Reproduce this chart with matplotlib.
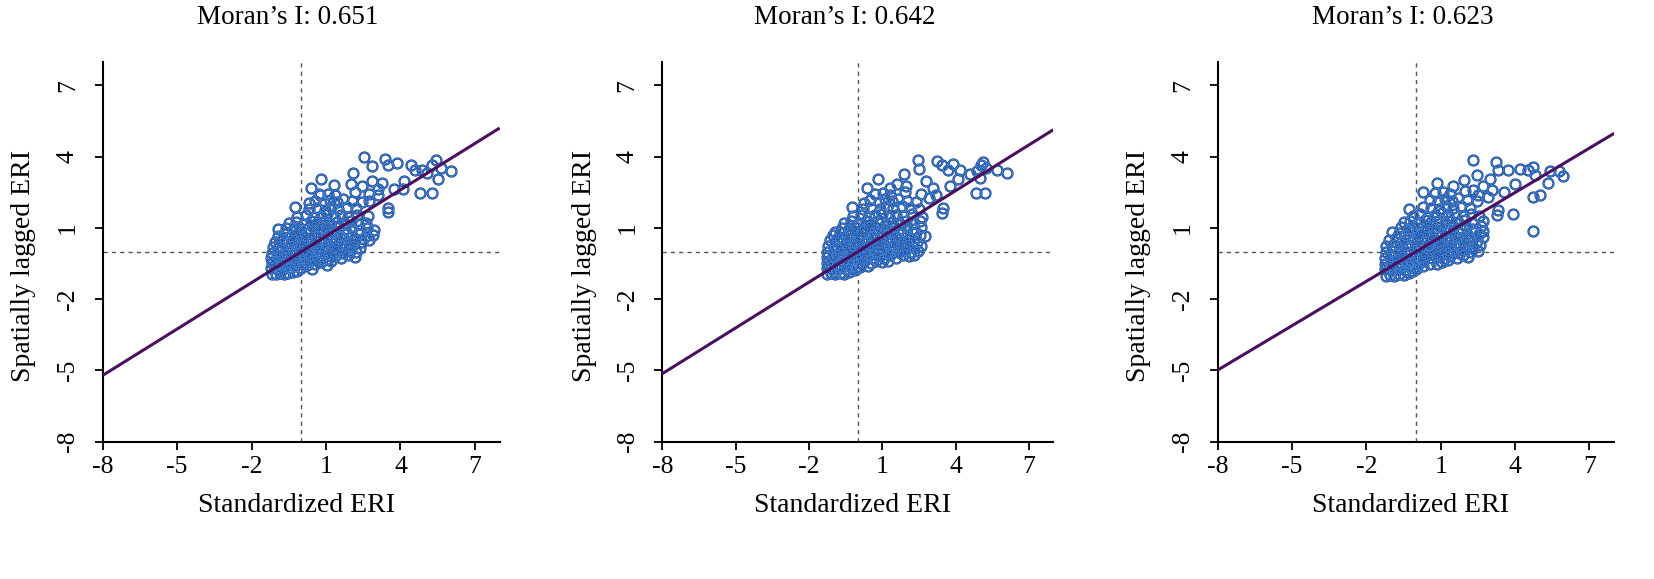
import numpy as np
import matplotlib.pyplot as plt

plt.rcParams['font.family'] = ['Liberation Serif', 'DejaVu Serif']

# Moran's I of each panel (slope of the fitted line)
moran_i = [0.651, 0.642, 0.623]
tick_vals = [-8, -5, -2, 1, 4, 7]

# standardized ERI (x) / spatially lagged ERI (y)
pts_a = [
    (-1.18, -0.92), (-1.02, -0.95), (-0.86, -0.90), (-0.70, -0.93), (-0.52, -0.88), (-0.35, -0.85), (-0.15, -0.80),
    (-1.20, -0.70), (-1.05, -0.62), (-0.88, -0.72), (-0.66, -0.66), (-0.45, -0.70), (-0.25, -0.62), (-0.02, -0.68),
    (0.22, -0.58), (0.45, -0.72),
    (-1.19, -0.48), (-1.00, -0.42), (-0.80, -0.50), (-0.58, -0.44), (-0.38, -0.50), (-0.15, -0.40), (0.08, -0.47),
    (0.30, -0.38), (0.55, -0.50), (0.78, -0.42), (1.02, -0.58), (1.20, -0.40),
    (-1.20, -0.25), (-0.97, -0.20), (-0.74, -0.28), (-0.52, -0.22), (-0.30, -0.30), (-0.08, -0.18), (0.15, -0.26),
    (0.38, -0.15), (0.62, -0.28), (0.85, -0.20), (1.10, -0.30), (1.35, -0.18), (1.62, -0.28), (1.88, -0.15), (2.15, -0.24),
    (-1.18, -0.05), (-0.92, 0.02), (-0.68, -0.08), (-0.45, 0.00), (-0.22, -0.04), (0.02, 0.05), (0.26, -0.06),
    (0.50, 0.04), (0.72, -0.02), (0.96, 0.06), (1.20, -0.06), (1.45, 0.03), (1.70, -0.04), (1.95, 0.05), (2.22, -0.02),
    (-1.15, 0.18), (-0.88, 0.25), (-0.62, 0.15), (-0.40, 0.24), (-0.15, 0.20), (0.10, 0.28), (0.34, 0.18),
    (0.58, 0.26), (0.82, 0.16), (1.05, 0.25), (1.30, 0.18), (1.55, 0.28), (1.80, 0.20), (2.05, 0.26), (2.35, 0.16),
    (-1.05, 0.42), (-0.78, 0.48), (-0.55, 0.40), (-0.30, 0.50), (-0.05, 0.44), (0.20, 0.52), (0.45, 0.42), (0.70, 0.50),
    (0.95, 0.40), (1.18, 0.48), (1.42, 0.44), (1.68, 0.52), (1.92, 0.42), (2.18, 0.50), (2.45, 0.40), (2.72, 0.48),
    (-0.95, 0.68), (-0.66, 0.74), (-0.42, 0.66), (-0.18, 0.76), (0.08, 0.68), (0.32, 0.78), (0.58, 0.66), (0.82, 0.74),
    (1.06, 0.70), (1.32, 0.78), (1.56, 0.66), (1.80, 0.74), (2.06, 0.68), (2.32, 0.76), (2.60, 0.66), (2.88, 0.72),
    (-0.92, 0.95), (-0.60, 0.98), (-0.32, 0.92), (-0.05, 1.00), (0.22, 0.94), (0.48, 1.02), (0.74, 0.92), (1.00, 0.98),
    (1.25, 0.90), (1.52, 1.02), (1.78, 0.94), (2.05, 0.98), (2.35, 0.92), (2.65, 1.00), (2.95, 0.90),
    (-0.50, 1.20), (-0.20, 1.25), (0.10, 1.18), (0.38, 1.28), (0.65, 1.20), (0.92, 1.26), (1.18, 1.16), (1.45, 1.24),
    (1.72, 1.20), (2.00, 1.28), (2.30, 1.18), (2.62, 1.22),
    (-0.15, 1.48), (0.20, 1.55), (0.50, 1.45), (0.78, 1.52), (1.05, 1.58), (1.32, 1.46), (1.60, 1.55), (1.90, 1.48),
    (2.25, 1.56), (2.70, 1.50),
    (0.30, 1.78), (0.62, 1.85), (0.95, 1.76), (1.22, 1.88), (1.50, 1.80), (1.85, 1.90), (2.20, 1.82),
    (0.55, 2.15), (0.90, 2.08), (1.18, 2.18), (1.45, 2.10), (1.70, 2.20), (2.05, 2.12), (2.45, 2.08),
    (0.75, 2.40), (1.10, 2.45), (1.35, 2.38), (2.15, 2.50), (2.75, 2.42), (3.10, 2.40),
    (2.54, 3.98), (3.38, 3.92), (3.48, 3.67), (3.88, 3.74), (4.41, 3.63), (2.87, 3.59), (4.86, 3.46), (5.28, 3.67),
    (5.44, 3.84), (5.62, 3.53), (6.02, 3.39), (5.53, 3.04), (4.78, 2.48), (5.26, 2.46), (4.15, 2.97), (4.11, 2.62),
    (3.75, 2.62), (2.07, 3.32), (0.80, 3.04), (0.40, 2.69), (1.33, 2.79), (2.00, 2.83), (2.47, 2.76), (2.87, 2.97),
    (3.27, 2.90), (3.48, 1.86), (3.51, 1.69), (-0.27, 1.90), (0.33, 2.04), (0.73, 2.41), (2.74, 2.13), (3.10, 2.65),
    (5.05, 3.30), (4.60, 3.45),
]

pts_b = [
    (-1.25, -0.95), (-1.08, -0.90), (-0.92, -0.96), (-0.74, -0.88), (-0.55, -0.93), (-0.36, -0.86), (-0.12, -0.78),
    (-1.26, -0.70), (-1.10, -0.64), (-0.90, -0.74), (-0.70, -0.64), (-0.48, -0.72), (-0.26, -0.60), (-0.04, -0.70),
    (0.10, -0.64), (0.40, -0.62),
    (-1.25, -0.46), (-1.04, -0.40), (-0.84, -0.50), (-0.62, -0.42), (-0.40, -0.48), (-0.18, -0.38), (0.06, -0.46),
    (0.28, -0.36), (0.52, -0.48), (0.76, -0.40), (0.97, -0.45), (1.22, -0.38),
    (-1.27, -0.22), (-1.02, -0.18), (-0.80, -0.26), (-0.56, -0.20), (-0.34, -0.28), (-0.10, -0.16), (0.12, -0.24),
    (0.36, -0.14), (0.60, -0.26), (0.84, -0.18), (1.08, -0.28), (1.32, -0.16), (1.58, -0.26), (1.84, -0.12),
    (2.10, -0.20), (2.31, -0.13),
    (-1.24, 0.00), (-0.98, 0.06), (-0.72, -0.04), (-0.48, 0.04), (-0.26, -0.02), (0.00, 0.08), (0.24, -0.04),
    (0.48, 0.06), (0.70, 0.00), (0.94, 0.08), (1.18, -0.04), (1.42, 0.05), (1.66, -0.02), (1.92, 0.06), (2.18, 0.00),
    (2.45, 0.04),
    (-1.22, 0.22), (-0.94, 0.28), (-0.68, 0.18), (-0.44, 0.26), (-0.20, 0.22), (0.06, 0.30), (0.30, 0.20), (0.54, 0.28),
    (0.78, 0.18), (1.02, 0.26), (1.26, 0.20), (1.50, 0.30), (1.76, 0.22), (2.02, 0.28), (2.30, 0.18), (2.58, 0.26),
    (-1.15, 0.48), (-0.86, 0.52), (-0.60, 0.44), (-0.36, 0.54), (-0.10, 0.46), (0.16, 0.54), (0.40, 0.44), (0.66, 0.52),
    (0.90, 0.42), (1.14, 0.50), (1.38, 0.46), (1.64, 0.54), (1.88, 0.44), (2.14, 0.52), (2.42, 0.42), (2.75, 0.67),
    (-1.00, 0.72), (-0.72, 0.78), (-0.46, 0.70), (-0.22, 0.80), (0.04, 0.70), (0.28, 0.80), (0.54, 0.68), (0.78, 0.76),
    (1.02, 0.72), (1.28, 0.80), (1.52, 0.68), (1.76, 0.76), (2.02, 0.70), (2.28, 0.78), (2.55, 0.70),
    (-0.92, 0.85), (-0.64, 1.00), (-0.36, 0.94), (-0.10, 1.02), (0.18, 0.96), (0.44, 1.04), (0.70, 0.94), (0.96, 1.00),
    (1.22, 0.92), (1.48, 1.04), (1.74, 0.96), (2.00, 1.00), (2.30, 0.94), (2.60, 1.06),
    (-0.55, 1.22), (-0.26, 1.28), (0.04, 1.20), (0.32, 1.30), (0.60, 1.22), (0.88, 1.28), (1.14, 1.18), (1.40, 1.26),
    (1.68, 1.22), (1.96, 1.30), (2.26, 1.20), (2.55, 1.28),
    (-0.20, 1.50), (0.14, 1.56), (0.44, 1.46), (0.72, 1.54), (1.00, 1.60), (1.28, 1.48), (1.56, 1.56), (1.86, 1.50),
    (2.20, 1.58), (2.62, 1.46),
    (0.22, 1.80), (0.56, 1.86), (0.90, 1.78), (1.18, 1.90), (1.46, 1.82), (1.80, 1.92), (2.15, 1.84), (2.50, 1.80),
    (0.50, 2.16), (0.86, 2.10), (1.12, 2.20), (1.40, 2.12), (1.66, 2.22), (2.00, 2.14), (2.40, 2.10),
    (0.70, 2.42), (1.05, 2.48), (1.30, 2.40), (1.95, 2.52), (2.60, 2.44),
    (2.45, 3.85), (2.50, 3.49), (3.25, 3.80), (3.43, 3.63), (3.90, 3.70), (3.70, 3.46), (4.20, 3.42), (4.59, 3.28),
    (5.13, 3.78), (4.89, 3.39), (5.26, 3.53), (5.68, 3.46), (6.09, 3.32), (5.00, 3.11), (4.82, 2.46), (5.20, 2.46),
    (4.11, 3.04), (3.77, 2.75), (3.47, 1.83), (3.43, 1.65), (1.90, 3.28), (0.84, 3.04), (0.39, 2.69), (0.27, 2.06),
    (-0.25, 1.88), (1.31, 2.69), (1.99, 2.76), (2.81, 2.97), (3.08, 2.70), (2.90, 2.25), (3.20, 2.40), (1.60, 2.85),
    (5.05, 3.65),
]

pts_c = [
    (-1.22, -1.04), (-1.06, -0.98), (-0.88, -1.02), (-0.70, -0.94), (-0.50, -0.98), (-0.30, -0.90), (-0.10, -0.82),
    (-1.24, -0.74), (-1.08, -0.68), (-0.88, -0.78), (-0.66, -0.68), (-0.44, -0.76), (-0.22, -0.64), (0.00, -0.72),
    (0.03, -0.66), (0.30, -0.62),
    (-1.23, -0.50), (-1.02, -0.44), (-0.82, -0.54), (-0.60, -0.46), (-0.38, -0.52), (-0.16, -0.42), (0.08, -0.50),
    (0.30, -0.40), (0.56, -0.52), (0.84, -0.52), (1.05, -0.44), (1.30, -0.36),
    (-1.25, -0.26), (-1.00, -0.20), (-0.78, -0.30), (-0.54, -0.22), (-0.32, -0.30), (-0.08, -0.18), (0.16, -0.26),
    (0.40, -0.16), (0.64, -0.28), (0.88, -0.20), (1.12, -0.30), (1.38, -0.18), (1.64, -0.26), (1.90, -0.14),
    (2.12, -0.21),
    (-1.22, -0.02), (-0.96, 0.04), (-0.70, -0.06), (-0.46, 0.02), (-0.22, -0.04), (0.04, 0.06), (0.28, -0.06),
    (0.52, 0.04), (0.76, -0.02), (1.00, 0.06), (1.24, -0.04), (1.48, 0.04), (1.72, -0.04), (1.98, 0.06), (2.24, 0.00),
    (2.50, 0.05),
    (-1.20, 0.24), (-0.92, 0.30), (-0.66, 0.20), (-0.42, 0.28), (-0.18, 0.22), (0.08, 0.30), (0.32, 0.20), (0.56, 0.28),
    (0.80, 0.20), (1.04, 0.28), (1.28, 0.22), (1.52, 0.30), (1.78, 0.22), (2.04, 0.28), (2.32, 0.20), (2.60, 0.28),
    (-1.10, 0.50), (-0.82, 0.56), (-0.56, 0.46), (-0.32, 0.56), (-0.06, 0.48), (0.20, 0.56), (0.44, 0.46), (0.70, 0.54),
    (0.94, 0.44), (1.18, 0.52), (1.42, 0.48), (1.68, 0.56), (1.92, 0.46), (2.18, 0.54), (2.46, 0.44), (2.72, 0.60),
    (-0.98, 0.85), (-0.70, 0.78), (-0.44, 0.72), (-0.20, 0.82), (0.06, 0.74), (0.30, 0.84), (0.56, 0.72), (0.80, 0.80),
    (1.04, 0.76), (1.30, 0.84), (1.54, 0.72), (1.78, 0.80), (2.04, 0.74), (2.30, 0.82), (2.56, 0.74), (2.72, 0.88),
    (-0.62, 1.02), (-0.34, 0.96), (-0.08, 1.04), (0.20, 0.98), (0.46, 1.06), (0.72, 0.96), (0.98, 1.02), (1.24, 0.94),
    (1.50, 1.06), (1.76, 0.98), (2.02, 1.02), (2.32, 0.96), (2.62, 1.08),
    (-0.50, 1.24), (-0.22, 1.30), (0.08, 1.22), (0.36, 1.32), (0.62, 1.24), (0.90, 1.30), (1.16, 1.20), (1.42, 1.28),
    (1.70, 1.24), (1.98, 1.32), (2.28, 1.22), (2.72, 1.30),
    (-0.10, 1.52), (0.18, 1.58), (0.48, 1.48), (0.76, 1.56), (1.04, 1.62), (1.30, 1.50), (1.58, 1.58), (1.88, 1.52),
    (2.24, 1.60), (2.55, 1.50),
    (-0.30, 1.81), (0.27, 1.90), (0.60, 1.86), (0.92, 1.80), (1.20, 1.92), (1.48, 1.84), (1.82, 1.94), (2.18, 1.86),
    (0.58, 2.18), (0.90, 2.12), (1.16, 2.22), (1.44, 2.14), (1.70, 2.24), (2.06, 2.16), (2.46, 2.12),
    (0.30, 2.53), (0.78, 2.46), (1.10, 2.50), (1.36, 2.42), (1.96, 2.56), (2.50, 2.40),
    (2.32, 3.84), (2.45, 3.25), (3.23, 3.77), (3.33, 3.46), (3.73, 3.46), (4.18, 3.49), (4.51, 3.46), (4.74, 3.57),
    (4.81, 3.25), (5.41, 3.39), (5.79, 3.39), (5.95, 3.18), (5.34, 2.90), (4.74, 2.32), (5.01, 2.39), (4.00, 2.86),
    (4.74, 0.88), (3.93, 1.60), (3.29, 1.53), (3.33, 1.75), (0.84, 2.90), (1.94, 3.00), (2.72, 2.76), (3.05, 2.60),
    (2.90, 2.30), (3.55, 2.50), (1.50, 2.75), (3.00, 3.05), (2.30, 2.60),
]

panels = [pts_a, pts_b, pts_c]
# left edge / width of each plot area in figure pixels (from the picture)
ax_left = [102.7, 662.3, 1217.7]
ax_width = [397.0, 391.0, 396.5]

W, H = 1654, 579
fig = plt.figure(figsize=(W / 100, H / 100), dpi=100)

for i, pts in enumerate(panels):
    ax = fig.add_axes([ax_left[i] / W, 1 - 441.7 / H, ax_width[i] / W, 380.0 / H])
    pts = np.array(pts)

    ax.axvline(0, color='#555555', lw=1.0, ls=(0, (3, 3)), zorder=1)
    ax.axhline(0, color='#555555', lw=1.0, ls=(0, (3, 3)), zorder=1)

    ax.plot(pts[:, 0], pts[:, 1], 'o', ms=7.2, mfc='none', mec='#173f88', mew=1.6, zorder=2)
    ax.plot(pts[:, 0], pts[:, 1], 'o', ms=7.2, mfc='none', mec='#3f86e0', mew=0.6, zorder=2)

    xs = np.array([-8, 8])
    ax.plot(xs, moran_i[i] * xs, color='#4a0f5e', lw=2.2, zorder=3, solid_capstyle='butt')

    ax.set_xlim(-8, 8)
    ax.set_ylim(-8, 8)
    ax.set_xticks(tick_vals)
    ax.set_yticks(tick_vals)
    ax.set_xticklabels([str(t) for t in tick_vals])
    ax.set_yticklabels([str(t) for t in tick_vals], rotation=90, va='center', ha='center')
    ax.tick_params(axis='x', length=6, width=1.3, pad=4, labelsize=18.5)
    ax.tick_params(axis='y', length=6, width=1.3, pad=19, labelsize=18.5)
    for s in ['top', 'right']:
        ax.spines[s].set_visible(False)
    for s in ['left', 'bottom']:
        ax.spines[s].set_linewidth(1.5)

    ax.text(0.467, 1.115, 'Moran\u2019s I: %.3f' % moran_i[i], transform=ax.transAxes,
            ha='center', va='center', fontsize=19.5)
    ax.text(0.487, -0.167, 'Standardized ERI', transform=ax.transAxes,
            ha='center', va='center', fontsize=20)
    ax.text(-0.2, 0.462, 'Spatially lagged ERI', transform=ax.transAxes,
            ha='center', va='center', fontsize=20, rotation=90)

fig.savefig('out.png', dpi=100)
